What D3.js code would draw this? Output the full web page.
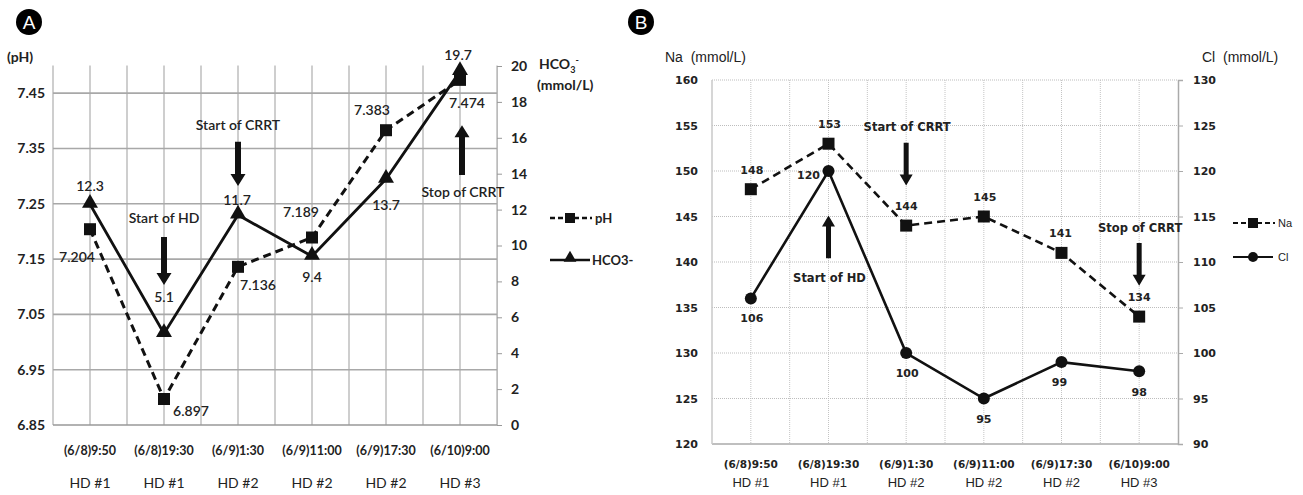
<!doctype html>
<html>
    <head>
        <title>pH, HCO3, Na and Cl during HD and CRRT</title>
        <script src="https://d3js.org/d3.v7.min.js"></script>
        <style>
            body { margin: 0; background: #fff; }
            .a text { font-family: Lato, 'Open Sans', sans-serif; font-weight: 700; fill: #222; }
            .b text { font-family: 'DejaVu Sans', sans-serif; font-weight: 700; fill: #222; }
            .b .title { font-family: 'Liberation Sans', Arial, sans-serif; font-weight: 400; font-size: 14px; }
            .b .hd { font-family: 'Liberation Sans', Arial, sans-serif; font-weight: 400; font-size: 13px; }
            .a .hd { font-weight: 400; font-size: 14px; }
            .badge { font-family: 'Liberation Sans', Arial, sans-serif; font-size: 19px; fill: #fff; text-anchor: middle; }
        </style>
    </head>
    <body>
        <svg height="495" id="chart" width="1303"></svg>
        <script>
            // shared categories
            const times = ["(6/8)9:50", "(6/8)19:30", "(6/9)1:30", "(6/9)11:00", "(6/9)17:30", "(6/10)9:00"];
            const sessions = ["HD#1", "HD#1", "HD#2", "HD#2", "HD#2", "HD#3"];

            // panel A
            const phValues = [7.204, 6.897, 7.136, 7.189, 7.383, 7.474];
            const hco3Values = [12.3, 5.1, 11.7, 9.4, 13.7, 19.7];
            const phTicks = [6.85, 6.95, 7.05, 7.15, 7.25, 7.35, 7.45];
            const hco3Ticks = [0, 2, 4, 6, 8, 10, 12, 14, 16, 18, 20];

            // panel B
            const naValues = [148, 153, 144, 145, 141, 134];
            const clValues = [106, 120, 100, 95, 99, 98];
            const naTicks = [120, 125, 130, 135, 140, 145, 150, 155, 160];
            const clTicks = [90, 95, 100, 105, 110, 115, 120, 125, 130];

            const svg = d3.select("#chart");
            const idx = d3.range(times.length);

            function arrow(g, x, y1, y2, shaft, head, headLen) {
                // y1 = tail, y2 = tip
                const dir = y2 > y1 ? 1 : -1;
                const yb = y2 - dir * headLen;
                const pts = [[x - shaft / 2, y1], [x + shaft / 2, y1], [x + shaft / 2, yb], [x + head / 2, yb],
                    [x, y2], [x - head / 2, yb], [x - shaft / 2, yb]];
                g.append("polygon").attr("points", pts.map(p => p.join(",")).join(" ")).attr("fill", "#111");
            }

            function badge(x, y, letter) {
                svg.append("circle").attr("cx", x).attr("cy", y).attr("r", 13).attr("fill", "#000");
                svg.append("text").attr("class", "badge").attr("x", x).attr("y", y + 7).text(letter);
            }

            // ---------------- Panel A ----------------
            const ga = svg.append("g").attr("class", "a");
            const xA = d3.scaleBand().domain(idx).range([53, 497]);
            const cxA = i => xA(i) + xA.bandwidth() / 2;
            const yPh = d3.scaleLinear().domain([6.85, 7.5]).range([425, 65.5]);
            const yHco3 = d3.scaleLinear().domain([0, 20]).range([425, 66]);

            // vertical grid at band edges and centres
            const vGridA = [];
            idx.forEach(i => { vGridA.push(xA(i)); vGridA.push(cxA(i)); });
            vGridA.push(xA.range()[1]);
            ga.append("g").selectAll("line").data(vGridA).enter().append("line")
                .attr("x1", d => d).attr("x2", d => d).attr("y1", yPh(7.5)).attr("y2", yPh(6.85))
                .attr("stroke", "#b4b4b4").attr("stroke-width", 1.3);
            ga.append("g").selectAll("line").data(phTicks).enter().append("line")
                .attr("x1", 53).attr("x2", 497).attr("y1", d => yPh(d)).attr("y2", d => yPh(d))
                .attr("stroke", d => d === 6.85 ? "#999" : "#a8a8a8").attr("stroke-width", 1.6);

            ga.append("g").selectAll("text").data(phTicks).enter().append("text")
                .attr("x", 45).attr("y", d => yPh(d) + 5).attr("text-anchor", "end")
                .style("font-size", "14px").text(d => d.toFixed(2));
            ga.append("text").attr("x", 7).attr("y", 62).style("font-size", "14px").text("(pH)");

            const rightA = d3.axisRight(yHco3).tickValues(hco3Ticks).tickSize(5).tickPadding(9);
            const rA = ga.append("g").attr("transform", "translate(497,0)").call(rightA);
            rA.select(".domain").attr("stroke", "#bbb");
            rA.selectAll(".tick line").attr("stroke", "#999");
            rA.selectAll(".tick text").style("font-size", "14px").style("font-family", "Lato, sans-serif")
                .attr("fill", "#222");

            const hTitle = ga.append("text").attr("x", 539).attr("y", 69).style("font-size", "14px");
            hTitle.append("tspan").text("HCO");
            hTitle.append("tspan").attr("dy", 4).style("font-size", "9px").text("3");
            hTitle.append("tspan").attr("dy", -10).style("font-size", "9px").text("-");
            ga.append("text").attr("x", 537).attr("y", 90).style("font-size", "14px").text("(mmol/L)");

            ga.append("g").selectAll("text").data(times).enter().append("text")
                .attr("x", (d, i) => cxA(i)).attr("y", 455).attr("text-anchor", "middle")
                .style("font-size", "12.5px").text(d => d);
            ga.append("g").selectAll("text").data(sessions).enter().append("text").attr("class", "hd")
                .attr("x", (d, i) => cxA(i)).attr("y", 488).attr("text-anchor", "middle")
                .text(d => d.replace("#", " #"));

            const linePh = d3.line().x((d, i) => cxA(i)).y(d => yPh(d));
            const lineHco3 = d3.line().x((d, i) => cxA(i)).y(d => yHco3(d));
            ga.append("path").attr("d", linePh(phValues)).attr("fill", "none").attr("stroke", "#111")
                .attr("stroke-width", 3).attr("stroke-dasharray", "8,5");
            ga.append("path").attr("d", lineHco3(hco3Values)).attr("fill", "none").attr("stroke", "#111")
                .attr("stroke-width", 2.8);
            ga.append("g").selectAll("rect").data(phValues).enter().append("rect")
                .attr("x", (d, i) => cxA(i) - 6).attr("y", d => yPh(d) - 6).attr("width", 12).attr("height", 12)
                .attr("fill", "#111");
            const tri = d3.symbol().type(d3.symbolTriangle).size(110);
            ga.append("g").selectAll("path").data(hco3Values).enter().append("path")
                .attr("d", tri).attr("transform", (d, i) => "translate(" + cxA(i) + "," + (yHco3(d) - 1) + ")")
                .attr("fill", "#111");

            const phOff = [[-13, 33], [27, 17], [20, 23], [-11, -21], [-14, -15], [7, 28]];
            const hcOff = [[0, -13], [0, -31], [-1, -10], [0, 26], [0, 31], [-2, -11]];
            ga.append("g").selectAll("text").data(phValues).enter().append("text")
                .attr("x", (d, i) => cxA(i) + phOff[i][0]).attr("y", (d, i) => yPh(d) + phOff[i][1])
                .attr("text-anchor", "middle").style("font-size", "14px").style("font-weight", 600)
                .text(d => d.toFixed(3));
            ga.append("g").selectAll("text").data(hco3Values).enter().append("text")
                .attr("x", (d, i) => cxA(i) + hcOff[i][0]).attr("y", (d, i) => yHco3(d) + hcOff[i][1])
                .attr("text-anchor", "middle").style("font-size", "14px").style("font-weight", 600)
                .text(d => d.toFixed(1));

            // annotations (positions in pH units)
            const notesA = [
                { text: "Start of CRRT", i: 2, tx: 0, ty: 7.383, from: 7.362, to: 7.282 },
                { text: "Start of HD", i: 1, tx: 0, ty: 7.215, from: 7.190, to: 7.103 },
                { text: "Stop of CRRT", i: 5, tx: 3, ty: 7.262, from: 7.302, to: 7.392 }
            ];
            notesA.forEach(n => {
                ga.append("text").attr("x", cxA(n.i) + n.tx).attr("y", yPh(n.ty)).attr("text-anchor", "middle")
                    .style("font-size", "14px").style("font-weight", 600).text(n.text);
                arrow(ga, cxA(n.i) + (n.i === 5 ? 2 : 0), yPh(n.from), yPh(n.to), 6, 15, 12);
            });

            // legend A
            const legA = ga.append("g").attr("transform", "translate(550,218)");
            legA.append("line").attr("x1", 0).attr("x2", 42).attr("stroke", "#111").attr("stroke-width", 2.5)
                .attr("stroke-dasharray", "5,3");
            legA.append("rect").attr("x", 15).attr("y", -5).attr("width", 10).attr("height", 10).attr("fill", "#111");
            legA.append("text").attr("x", 45).attr("y", 5).style("font-size", "13px").text("pH");
            legA.append("line").attr("x1", 0).attr("x2", 40).attr("y1", 42).attr("y2", 42)
                .attr("stroke", "#111").attr("stroke-width", 2.5);
            legA.append("path").attr("d", d3.symbol().type(d3.symbolTriangle).size(70))
                .attr("transform", "translate(20,40)").attr("fill", "#111");
            legA.append("text").attr("x", 42).attr("y", 47).style("font-size", "13px").text("HCO3-");

            badge(29, 22, "A");

            // ---------------- Panel B ----------------
            const gb = svg.append("g").attr("class", "b");
            const xB = d3.scaleBand().domain(idx).range([712, 1178]);
            const cxB = i => xB(i) + xB.bandwidth() / 2;
            const yNa = d3.scaleLinear().domain([120, 160]).range([444, 80]);
            const yCl = d3.scaleLinear().domain([90, 130]).range([444, 80]);

            const vGridB = [];
            idx.forEach(i => { if (i > 0) vGridB.push(xB(i)); vGridB.push(cxB(i)); });
            gb.append("g").selectAll("line").data(vGridB).enter().append("line")
                .attr("x1", d => d).attr("x2", d => d).attr("y1", 80).attr("y2", 444)
                .attr("stroke", "#c4c4c4").attr("stroke-width", 1).attr("stroke-dasharray", "1,1");
            gb.append("g").selectAll("line").data(naTicks.slice(1)).enter().append("line")
                .attr("x1", 712).attr("x2", 1178).attr("y1", d => yNa(d)).attr("y2", d => yNa(d))
                .attr("stroke", "#bdbdbd").attr("stroke-width", 1).attr("stroke-dasharray", "1,1");
            gb.append("line").attr("x1", 712).attr("x2", 1178).attr("y1", 444).attr("y2", 444)
                .attr("stroke", "#aaa").attr("stroke-width", 1.5);
            gb.append("line").attr("x1", 712).attr("x2", 712).attr("y1", 80).attr("y2", 444)
                .attr("stroke", "#c8c8c8").attr("stroke-width", 1.5);

            gb.append("g").selectAll("text").data(naTicks).enter().append("text")
                .attr("x", 698).attr("y", d => yNa(d) + 4).attr("text-anchor", "end")
                .style("font-size", "11px").text(d => d);
            const rightB = d3.axisRight(yCl).tickValues(clTicks).tickSize(5).tickPadding(10);
            const rB = gb.append("g").attr("transform", "translate(1178,0)").call(rightB);
            rB.select(".domain").attr("stroke", "#aaa").attr("stroke-width", 1.5);
            rB.selectAll(".tick line").attr("stroke", "#aaa");
            rB.selectAll(".tick text").style("font-size", "11px").style("font-family", "'DejaVu Sans', sans-serif")
                .style("font-weight", 700).attr("fill", "#222");

            gb.append("text").attr("class", "title").attr("x", 665).attr("y", 62)
                .attr("xml:space", "preserve").style("white-space", "pre").text("Na  (mmol/L)");
            gb.append("text").attr("class", "title").attr("x", 1202).attr("y", 62)
                .attr("xml:space", "preserve").style("white-space", "pre").text("Cl  (mmol/L)");

            gb.append("g").selectAll("text").data(times).enter().append("text")
                .attr("x", (d, i) => cxB(i)).attr("y", 468).attr("text-anchor", "middle")
                .style("font-size", "10.5px").text(d => d);
            gb.append("g").selectAll("text").data(sessions).enter().append("text").attr("class", "hd")
                .attr("x", (d, i) => cxB(i)).attr("y", 487).attr("text-anchor", "middle")
                .text(d => d.replace("#", " #"));

            const lineNa = d3.line().x((d, i) => cxB(i)).y(d => yNa(d));
            const lineCl = d3.line().x((d, i) => cxB(i)).y(d => yCl(d));
            gb.append("path").attr("d", lineNa(naValues)).attr("fill", "none").attr("stroke", "#111")
                .attr("stroke-width", 2.6).attr("stroke-dasharray", "8,5");
            gb.append("path").attr("d", lineCl(clValues)).attr("fill", "none").attr("stroke", "#111")
                .attr("stroke-width", 2.6);
            gb.append("g").selectAll("rect").data(naValues).enter().append("rect")
                .attr("x", (d, i) => cxB(i) - 6).attr("y", d => yNa(d) - 6).attr("width", 12).attr("height", 12)
                .attr("fill", "#111");
            gb.append("g").selectAll("circle").data(clValues).enter().append("circle")
                .attr("cx", (d, i) => cxB(i)).attr("cy", d => yCl(d)).attr("r", 6).attr("fill", "#111");

            const naOff = [[1, -15], [1, -16], [0, -16], [1, -16], [-1, -16], [0, -16]];
            const clOff = [[1, 24], [-20, 8], [1, 24], [0, 24], [-2, 24], [0, 25]];
            gb.append("g").selectAll("text").data(naValues).enter().append("text")
                .attr("x", (d, i) => cxB(i) + naOff[i][0]).attr("y", (d, i) => yNa(d) + naOff[i][1])
                .attr("text-anchor", "middle").style("font-size", "11px").text(d => d);
            gb.append("g").selectAll("text").data(clValues).enter().append("text")
                .attr("x", (d, i) => cxB(i) + clOff[i][0]).attr("y", (d, i) => yCl(d) + clOff[i][1])
                .attr("text-anchor", "middle").style("font-size", "11px").text(d => d);

            // annotations (positions in Na units)
            const notesB = [
                { text: "Start of CRRT", i: 2, ty: 154.4, from: 153.1, to: 148.4 },
                { text: "Start of HD", i: 1, ty: 137.8, from: 140.4, to: 145.1 },
                { text: "Stop of CRRT", i: 5, ty: 143.3, from: 142.1, to: 137.4 }
            ];
            notesB.forEach(n => {
                gb.append("text").attr("x", cxB(n.i) + 1).attr("y", yNa(n.ty)).attr("text-anchor", "middle")
                    .style("font-size", "11.5px").text(n.text);
                arrow(gb, cxB(n.i), yNa(n.from), yNa(n.to), 5, 13, 11);
            });

            const legB = gb.append("g").attr("transform", "translate(1233,223)");
            legB.append("line").attr("x1", 0).attr("x2", 42).attr("stroke", "#111").attr("stroke-width", 2)
                .attr("stroke-dasharray", "5,3");
            legB.append("rect").attr("x", 15).attr("y", -5).attr("width", 10).attr("height", 10).attr("fill", "#111");
            legB.append("text").attr("x", 45).attr("y", 4).style("font-family", "'Liberation Sans', sans-serif")
                .style("font-weight", 400).style("font-size", "11px").attr("fill", "#555").text("Na");
            legB.append("line").attr("x1", 0).attr("x2", 40).attr("y1", 34).attr("y2", 34)
                .attr("stroke", "#111").attr("stroke-width", 2);
            legB.append("circle").attr("cx", 20).attr("cy", 34).attr("r", 5).attr("fill", "#111");
            legB.append("text").attr("x", 45).attr("y", 38).style("font-family", "'Liberation Sans', sans-serif")
                .style("font-weight", 400).style("font-size", "11px").attr("fill", "#555").text("Cl");

            badge(641, 22, "B");
        </script>
    </body>
</html>
